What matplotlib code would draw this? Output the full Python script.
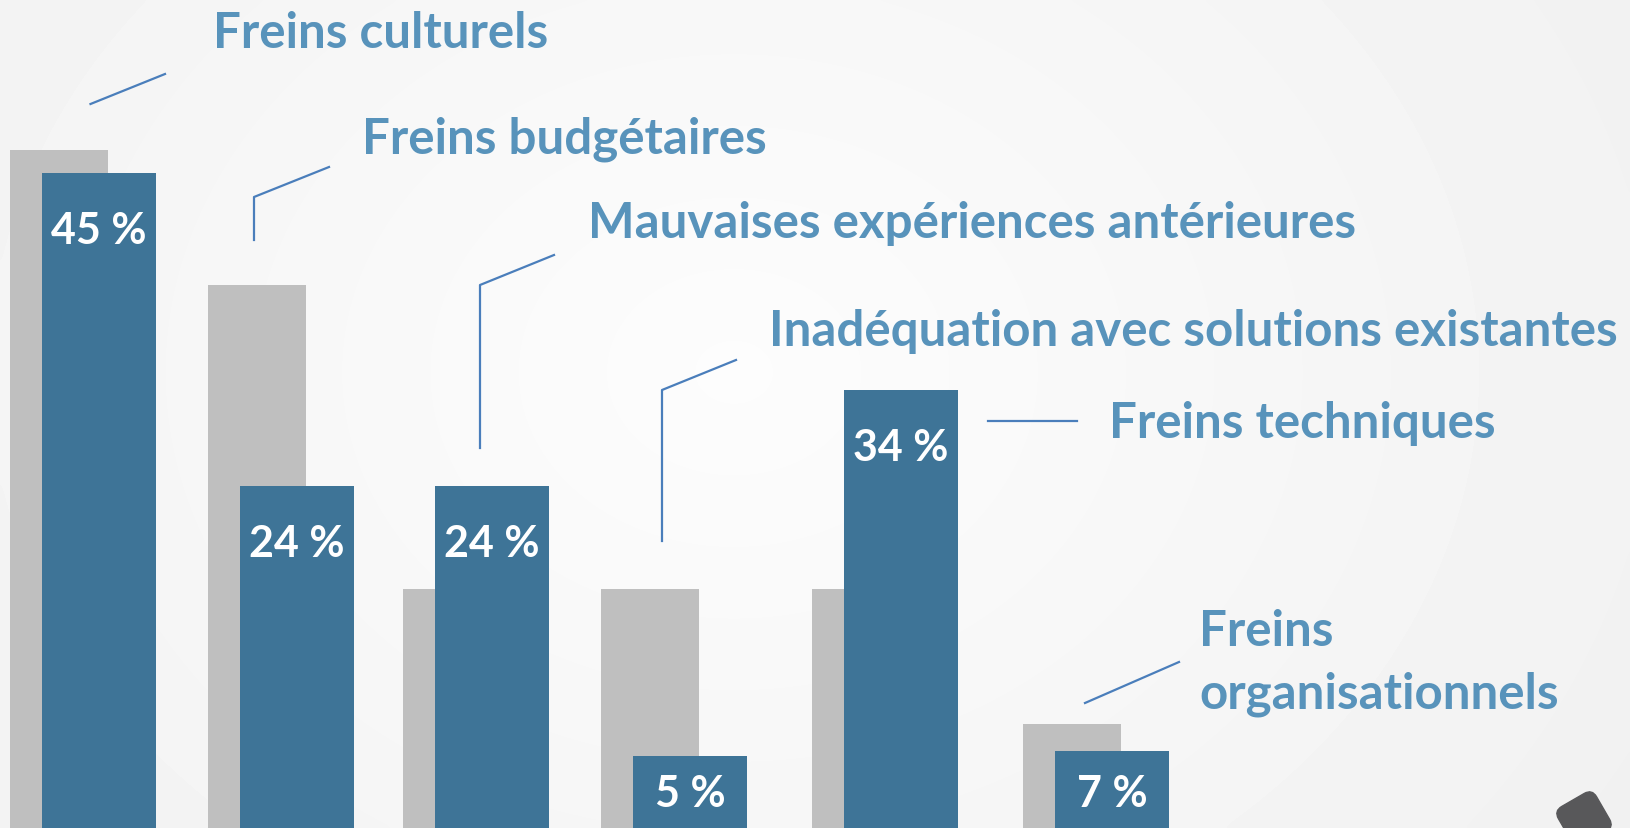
import numpy as np
import matplotlib
matplotlib.use("Agg")
import matplotlib.pyplot as plt
from matplotlib.patches import FancyBboxPatch
import matplotlib.transforms as mtransforms

# data (bar heights, in % of figure height)
categories = ["Freins culturels", "Freins budgétaires", "Mauvaises expériences antérieures",
              "Inadéquation avec solutions existantes", "Freins techniques",
              "Freins\norganisationnels"]
blue_labels = ["45 %", "24 %", "24 %", "5 %", "34 %", "7 %"]
blue_heights = [79.0, 41.3, 41.3, 8.7, 52.8, 9.3]
grey_heights = [81.8, 65.5, 28.8, 28.8, 28.8, 12.5]

W, H = 1631, 829
bar_x = [99, 297, 492, 690, 901, 1112]   # bar centres, pixels

fig = plt.figure(figsize=(W / 100, H / 100), dpi=100)

# soft light background
bg = fig.add_axes([0, 0, 1, 1])
yy, xx = np.mgrid[0:1:200j, 0:1:400j]
r = np.sqrt(((xx - 0.45) * 1.6) ** 2 + ((yy - 0.45) * 1.0) ** 2)
bg.imshow(0.99 - 0.045 * r, cmap="gray", vmin=0, vmax=1, aspect="auto",
          extent=[0, 1, 0, 1], interpolation="bicubic")
bg.set_axis_off()

ax = fig.add_axes([0, 0, 1, 1])
ax.patch.set_alpha(0)
ax.set_xlim(0, W)
ax.set_ylim(0, 100)
ax.set_axis_off()

x = np.array(bar_x)
ax.bar(x - 39.5, grey_heights, width=98, color="#bfbfbf", zorder=2)
ax.bar(x, blue_heights, width=114, color="#3e7497", zorder=3)

for xi, h, lab in zip(x, blue_heights, blue_labels):
    ax.text(xi, max(h - 6.9, 4.2), lab, ha="center", va="center", color="white",
            fontsize=31, fontweight="bold", family="Lato", zorder=4)


def fx(px, py):
    return px / W, 1 - py / H


label_pos = [(213, 33), (362, 139), (588, 224), (769, 331), (1109, 424), (1199, 663)]
connectors = [
    [(90.5, 105), (165, 75)],
    [(254, 241), (254, 198), (329, 168)],
    [(480, 449), (480, 286), (554, 256)],
    [(662, 542), (662, 391), (736, 361)],
    [(988, 422), (1077, 422)],
    [(1085, 704), (1179, 663)],
]

for lab, (lx, ly), pts in zip(categories, label_pos, connectors):
    fig.text(*fx(lx, ly), lab, ha="left", va="center", color="#5893bb",
             fontsize=35.5, fontweight="bold", family="Lato", linespacing=1.45)
    xs, ys = zip(*[fx(*p) for p in pts])
    fig.add_artist(plt.Line2D(xs, ys, color="#4a7ebb", lw=1.6))

# small dark decoration bottom right
deco = FancyBboxPatch((0, 0), 44, 44, boxstyle="round,pad=0,rounding_size=9",
                      color="#58585a", zorder=5)
t = (mtransforms.Affine2D().translate(-22, -22).rotate_deg(30)
     .translate(1584, H - 820) + mtransforms.IdentityTransform())
deco.set_transform(t)
fig.add_artist(deco)

fig.savefig("out.png", dpi=100)
